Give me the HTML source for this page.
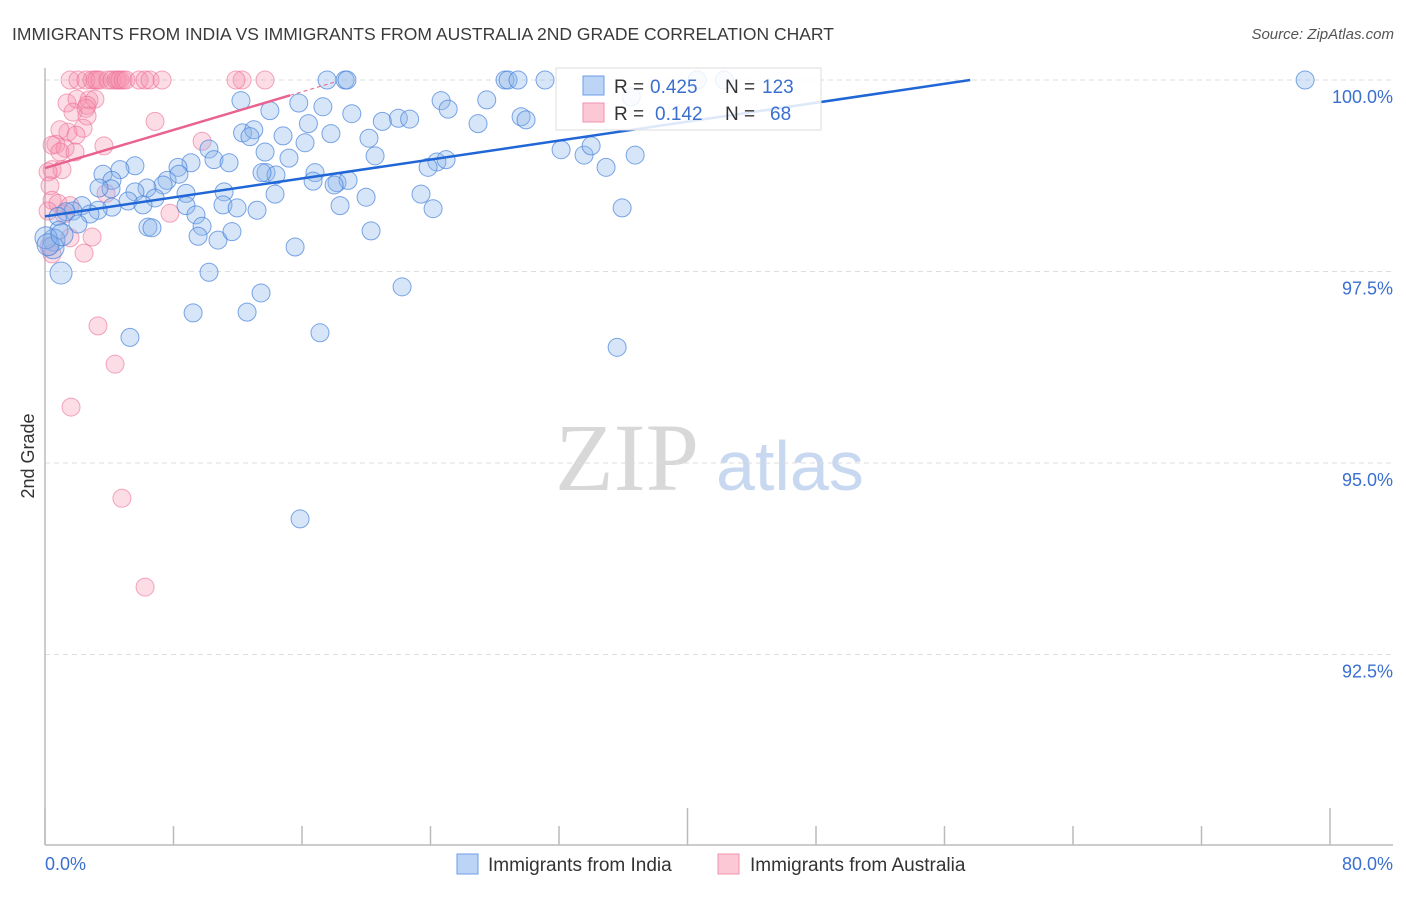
<!DOCTYPE html>
<html><head><meta charset="utf-8"><style>
body{margin:0;background:#fff;font-family:"Liberation Sans",sans-serif;}
svg text{font-family:"Liberation Sans",sans-serif;}
</style></head><body>
<svg id="chart" width="1406" height="892" viewBox="0 0 1406 892" xmlns="http://www.w3.org/2000/svg">
<text x="12" y="40" font-size="17.5" fill="#3a3a3a">IMMIGRANTS FROM INDIA VS IMMIGRANTS FROM AUSTRALIA 2ND GRADE CORRELATION CHART</text>
<text x="1394" y="39" font-size="15" fill="#555" text-anchor="end" font-style="italic">Source: ZipAtlas.com</text>
<text transform="translate(34,456) rotate(-90)" font-size="18" fill="#333" text-anchor="middle">2nd Grade</text>
<g>
<text x="555" y="490" font-size="96" fill="#d8d8d8" font-family="Liberation Serif, serif" style="font-family:'Liberation Serif',serif">ZIP</text>
<text x="716" y="490" font-size="70" fill="#c8d8f0">atlas</text>
</g>
<g id="grid"></g>
<g id="axes"></g>
<g id="pink"></g>
<g id="blue"></g>
<g id="trends"></g>
<g>
<rect x="556" y="68" width="265" height="62" fill="#fff" fill-opacity="0.85" stroke="#ddd"/>
<rect x="583" y="76" width="21" height="19" fill="#bcd4f6" stroke="#6a9ee8"/>
<rect x="583" y="103" width="21" height="19" fill="#fcc8d6" stroke="#ef93ad"/>
<text x="614" y="93" font-size="19" fill="#333">R = </text><text x="650" y="93" font-size="19" fill="#3a6fd0">0.425</text>
<text x="725" y="93" font-size="19" fill="#333">N = </text><text x="762" y="93" font-size="19" fill="#3a6fd0">123</text>
<text x="614" y="120" font-size="19" fill="#333">R = </text><text x="655" y="120" font-size="19" fill="#3a6fd0">0.142</text>
<text x="725" y="120" font-size="19" fill="#333">N = </text><text x="770" y="120" font-size="19" fill="#3a6fd0">68</text>
</g>
<g>
<rect x="457" y="854" width="21" height="20" fill="#bcd4f6" stroke="#6a9ee8"/>
<text x="488" y="871" font-size="19" fill="#333">Immigrants from India</text>
<rect x="718" y="854" width="21" height="20" fill="#fcc8d6" stroke="#ef93ad"/>
<text x="750" y="871" font-size="19" fill="#333">Immigrants from Australia</text>
</g>
</svg>
<script>
const xTicks=[0,8,16,24,32,40,48,56,64,72,80];
const yTicks=[100,97.5,95,92.5];
const yTickLabels=["100.0%","97.5%","95.0%","92.5%"];
const xEndLabels=["0.0%","80.0%"];
const indiaX=[17.56,18.68,18.8,28.64,28.83,29.45,31.13,78.45,42.3,40.6,36.5,12.2,14.0,15.8,17.3,19.1,24.66,27.5,25.1,22.0,22.7,21.0,26.96,29.64,29.95,16.4,12.3,13.0,12.76,14.82,17.8,20.17,13.7,15.19,20.55,16.19,32.13,33.56,34.0,36.74,34.93,24.4,24.97,23.85,10.21,10.52,11.46,9.09,8.28,5.6,4.67,3.61,4.17,7.6,8.34,7.35,6.35,5.6,5.17,4.11,3.36,6.85,8.78,11.15,13.76,14.38,16.81,16.69,18.18,18.87,18.0,23.41,19.99,14.32,13.51,18.37,24.16,35.93,11.08,11.96,13.2,8.78,9.4,9.78,6.1,4.17,3.3,2.3,1.74,1.31,2.8,0.81,2.05,0.87,6.41,6.66,9.53,10.77,11.64,15.57,20.3,0.56,0.5,1.0,10.21,13.45,22.23,9.22,12.58,17.12,5.29,35.62,15.88,0.06,0.19,1.06];
const indiaY=[100,100,100,100,100,100,100,100,100,100,99.78,99.73,99.6,99.7,99.65,99.56,99.73,99.74,99.62,99.5,99.49,99.46,99.43,99.52,99.48,99.43,99.31,99.35,99.26,99.27,99.3,99.24,99.06,98.98,99.01,99.18,99.09,99.02,99.14,99.02,98.86,98.93,98.96,98.86,99.1,98.96,98.92,98.92,98.86,98.88,98.83,98.77,98.69,98.69,98.77,98.63,98.59,98.54,98.42,98.58,98.59,98.46,98.52,98.54,98.79,98.76,98.79,98.68,98.66,98.69,98.63,98.51,98.47,98.51,98.79,98.36,98.32,98.33,98.37,98.33,98.3,98.36,98.24,98.09,98.37,98.34,98.3,98.36,98.29,98.28,98.25,98.22,98.12,98.04,98.08,98.07,97.96,97.91,98.02,97.82,98.03,97.91,97.81,97.48,97.49,97.22,97.3,96.96,96.97,96.7,96.64,96.51,94.27,97.94,97.85,97.98];
const ausX=[1.56,2.05,2.55,2.93,3.11,3.24,3.42,3.92,4.17,4.42,4.55,4.67,4.86,5.04,5.85,6.23,6.54,7.29,12.27,13.7,11.89,1.37,1.99,2.74,3.11,2.62,1.74,2.55,2.62,2.37,1.43,1.93,0.93,0.68,0.44,1.25,0.93,3.67,9.78,6.85,1.87,0.44,1.06,0.19,0.31,0.44,0.81,1.56,1.18,3.8,7.78,2.93,1.56,2.43,0.25,0.44,3.3,4.36,1.62,4.79,6.23,0.19];
const ausY=[100,100,100,100,100,100,100,100,100,100,100,100,100,100,100,100,100,100,100,100,100,99.7,99.75,99.74,99.75,99.67,99.58,99.63,99.53,99.37,99.32,99.28,99.35,99.16,99.15,99.11,99.06,99.14,99.2,99.46,99.06,98.83,98.83,98.8,98.62,98.43,98.39,98.36,98.25,98.52,98.26,97.95,97.94,97.74,97.83,97.73,96.79,96.29,95.73,94.54,93.38,98.29];
const indiaTrend=[0,98.22,57.6,100];
const ausTrend=[0,98.85,15.26,99.8,18.0,99.97];
const X0=45,X1=1330,Y100=80,PER=76.6;
const sx=v=>X0+(v/80)*(X1-X0);
const sy=v=>Y100+(100-v)*PER;
const NS="http://www.w3.org/2000/svg";
function mk(tag,attrs,parent){const e=document.createElementNS(NS,tag);for(const k in attrs)e.setAttribute(k,attrs[k]);parent.appendChild(e);return e;}
const grid=document.getElementById('grid'),axes=document.getElementById('axes');
yTicks.forEach((t,i)=>{
 const l=mk('line',{x1:X0,x2:1393,y1:sy(t),y2:sy(t),stroke:'#ddd','stroke-dasharray':'5,4'},grid);
 
 
 const tx=mk('text',{x:1393,y:sy(t)+23,'font-size':18,fill:'#3a6fd0','text-anchor':'end'},axes);
 tx.textContent=yTickLabels[i];
 
 
});
const ax=mk('line',{x1:X0,x2:1393,y1:845,y2:845,stroke:'#bbb','stroke-width':1.5},axes);


const ay=mk('line',{x1:X0,x2:X0,y1:68,y2:845,stroke:'#bbb','stroke-width':1.5},axes);


xTicks.forEach(t=>{
 const major=(t===40||t===0||t===80);
 const tk=mk('line',{x1:sx(t),x2:sx(t),y1:major?808:826,y2:845,stroke:'#bbb','stroke-width':1.5},axes);
 
 
});
const xl0=mk('text',{x:45,y:870,'font-size':18,fill:'#3a6fd0'},axes);xl0.textContent=xEndLabels[0];


const xl1=mk('text',{x:1393,y:870,'font-size':18,fill:'#3a6fd0','text-anchor':'end'},axes);xl1.textContent=xEndLabels[1];


const pg=document.getElementById('pink'),bg=document.getElementById('blue');
ausX.forEach((x,i)=>{
 const c=mk('circle',{cx:sx(x),cy:sy(ausY[i]),r:9,fill:'rgba(244,143,172,0.3)',stroke:'rgba(236,110,150,0.6)','stroke-width':1},pg);
 
 
});
indiaX.forEach((x,i)=>{
 const big=x<1.1&&indiaY[i]<98;
 const c=mk('circle',{cx:sx(x),cy:sy(indiaY[i]),r:big?11:9,fill:'rgba(140,180,236,0.35)',stroke:'rgba(70,130,220,0.7)','stroke-width':1},bg);
 
 
});
const tg=document.getElementById('trends');
const bt=mk('line',{x1:sx(indiaTrend[0]),y1:sy(indiaTrend[1]),x2:sx(indiaTrend[2]),y2:sy(indiaTrend[3]),stroke:'#2066d6','stroke-width':2.5},tg);


const pt=mk('line',{x1:sx(ausTrend[0]),y1:sy(ausTrend[1]),x2:sx(ausTrend[2]),y2:sy(ausTrend[3]),stroke:'#e8638f','stroke-width':2.5},tg);


const pd=mk('line',{x1:sx(ausTrend[2]),y1:sy(ausTrend[3]),x2:sx(ausTrend[4]),y2:sy(ausTrend[5]),stroke:'#e8638f','stroke-width':1,'stroke-dasharray':'4,3'},tg);


</script>
</body></html>
